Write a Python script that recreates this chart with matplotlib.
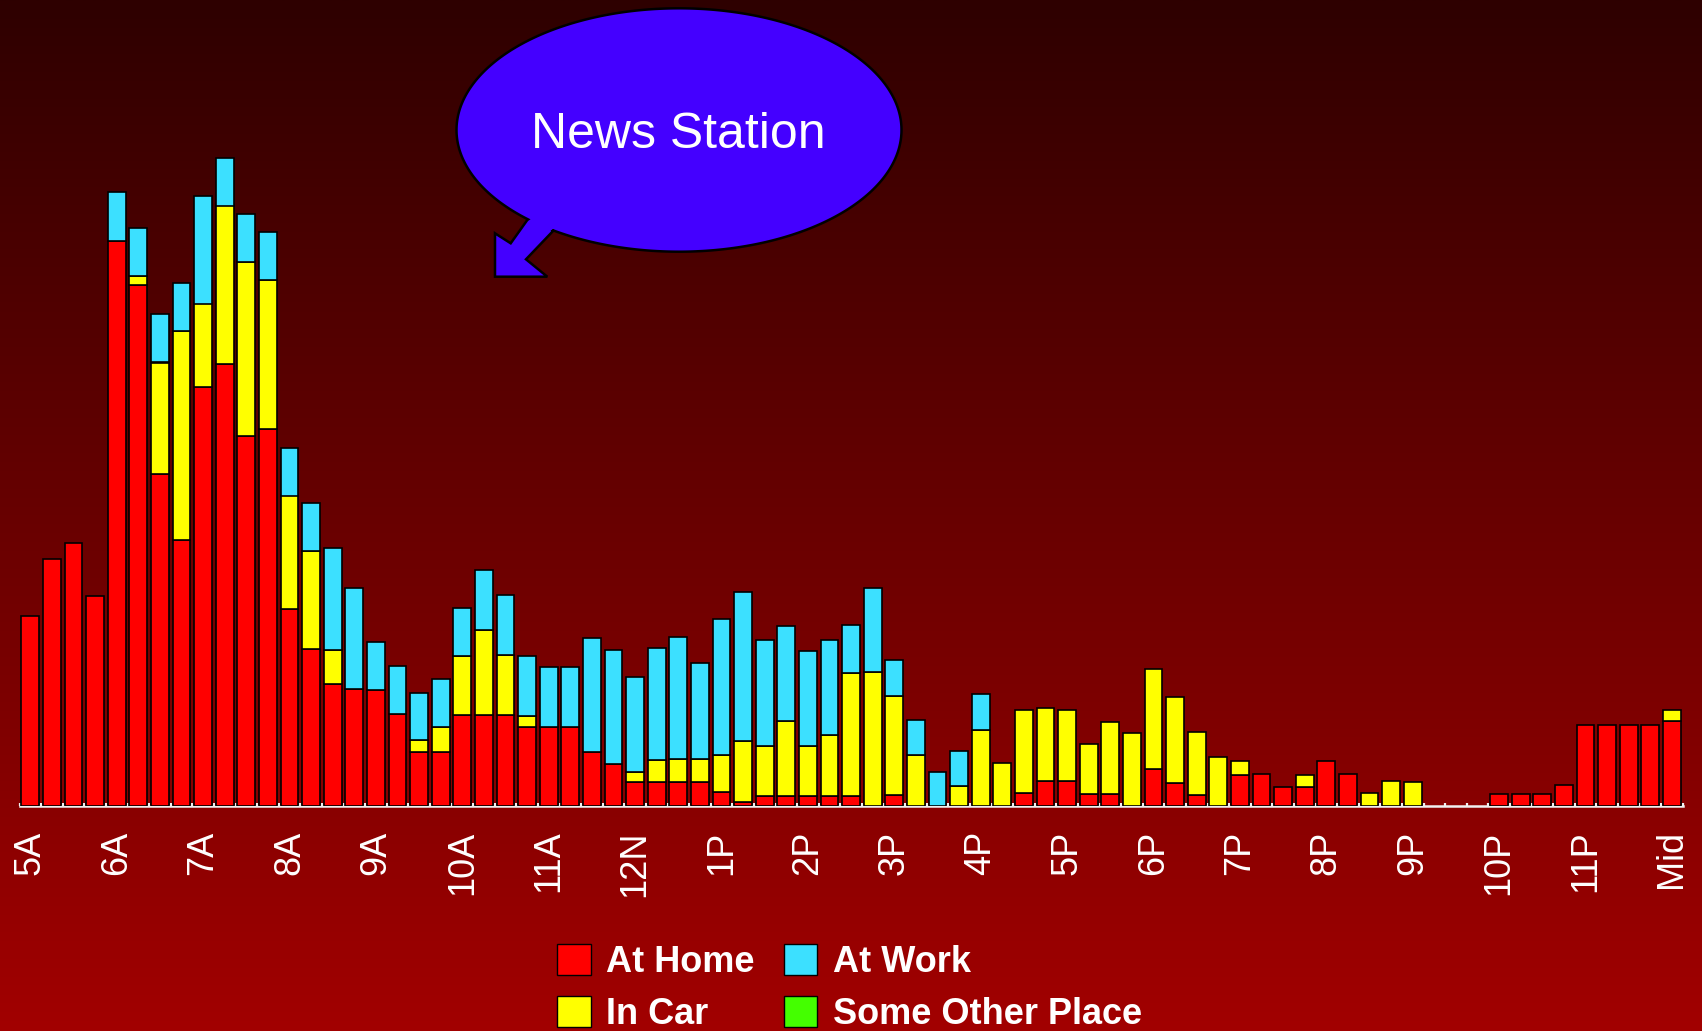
import numpy as np
import matplotlib
matplotlib.use("Agg")
import matplotlib.pyplot as plt
from matplotlib.patches import Patch, Polygon
from matplotlib.font_manager import FontProperties

# Quarter-hour slots from 5A to midnight
hour_labels = ["5A", "6A", "7A", "8A", "9A", "10A", "11A", "12N", "1P", "2P",
               "3P", "4P", "5P", "6P", "7P", "8P", "9P", "10P", "11P", "Mid"]

at_home = [19.0, 24.7, 26.3, 21.0, 56.5, 52.1, 33.2, 26.6, 41.9, 44.2,
           37.0, 37.7, 19.7, 15.7, 12.2, 11.7, 11.6, 9.2, 5.4, 5.4,
           9.1, 9.1, 9.1, 7.9, 7.9, 7.9, 5.4, 4.2, 2.4, 2.4,
           2.4, 2.4, 1.4, 0.4, 1.0, 1.0, 1.0, 1.0, 1.0, 0.0,
           1.1, 0.0, 0.0, 0.0, 0.0, 0.0, 1.3, 2.5, 2.5, 1.2,
           1.2, 0.0, 3.7, 2.3, 1.1, 0.0, 3.1, 3.2, 1.9, 1.9,
           4.5, 3.2, 0.0, 0.0, 0.0, 0.0, 0.0, 0.0, 1.2, 1.2,
           1.2, 2.1, 8.1, 8.1, 8.1, 8.1, 8.5]

in_car = [0.0, 0.0, 0.0, 0.0, 0.0, 0.9, 11.1, 20.9, 8.3, 15.8,
          17.4, 14.9, 11.3, 9.8, 3.4, 0.0, 0.0, 0.0, 1.2, 2.5,
          5.9, 8.5, 6.0, 1.1, 0.0, 0.0, 0.0, 0.0, 1.0, 2.2,
          2.3, 2.3, 3.7, 6.1, 5.0, 7.5, 5.0, 6.1, 12.3, 13.4,
          9.9, 5.1, 0.0, 2.0, 7.6, 4.3, 8.3, 7.3, 7.1, 5.0,
          7.2, 7.3, 10.0, 8.6, 6.3, 4.9, 1.4, 0.0, 0.0, 1.2,
          0.0, 0.0, 1.3, 2.5, 2.4, 0.0, 0.0, 0.0, 0.0, 0.0,
          0.0, 0.0, 0.0, 0.0, 0.0, 0.0, 1.1]

at_work = [0.0, 0.0, 0.0, 0.0, 4.9, 4.8, 4.8, 4.8, 10.7, 4.8,
           4.8, 4.8, 4.8, 4.8, 10.2, 10.1, 4.8, 4.8, 4.7, 4.8,
           4.8, 6.0, 6.0, 6.0, 6.0, 6.0, 11.4, 11.4, 9.5, 11.2,
           12.2, 9.6, 13.6, 14.9, 10.6, 9.5, 9.5, 9.5, 4.8, 8.4,
           3.6, 3.5, 3.4, 3.5, 3.6, 0.0, 0.0, 0.0, 0.0, 0.0,
           0.0, 0.0, 0.0, 0.0, 0.0, 0.0, 0.0, 0.0, 0.0, 0.0,
           0.0, 0.0, 0.0, 0.0, 0.0, 0.0, 0.0, 0.0, 0.0, 0.0,
           0.0, 0.0, 0.0, 0.0, 0.0, 0.0, 0.0]

other_place = [0.0] * 77

series = [
    ("At Home", at_home, "#ff0000"),
    ("In Car", in_car, "#ffff00"),
    ("At Work", at_work, "#3ce0ff"),
    ("Some Other Place", other_place, "#44ff00"),
]

W, H = 1702, 1031
fig = plt.figure(figsize=(W / 100, H / 100), dpi=100)

# Dark-to-red vertical background gradient
bg = fig.add_axes([0, 0, 1, 1], zorder=-10)
t = np.linspace(0, 1, 512)[:, None]
top = np.array([46, 0, 0]) / 255
bot = np.array([162, 0, 0]) / 255
grad = (top[None, None, :] * (1 - t[..., None]) + bot[None, None, :] * t[..., None])
grad = np.repeat(grad, 2, axis=1)
bg.imshow(grad, aspect="auto", extent=[0, 1, 0, 1])
bg.set_axis_off()

ax = fig.add_axes([19.5 / W, 1 - 805.5 / H, (1682.7 - 19.5) / W, 805.5 / H])
ax.patch.set_alpha(0)

x = np.arange(len(at_home))
bottom = np.zeros(len(x))
for name, vals, color in series:
    v = np.asarray(vals, dtype=float)
    m = v > 0
    if m.any():
        ax.bar(x[m], v[m], bottom=bottom[m], width=0.83, color=color,
               edgecolor="black", linewidth=1.2, zorder=2)
    bottom += v

ax.set_xlim(-0.5, len(x) - 0.5)
ax.set_ylim(0, 80.55)
for s in ("left", "right", "top"):
    ax.spines[s].set_visible(False)
ax.spines["bottom"].set_color("#f0f0f0")
ax.spines["bottom"].set_linewidth(1.8)
ax.spines["bottom"].set_zorder(1)
ax.set_yticks([])

ax.set_xticks(np.arange(0, len(x), 4))
ax.set_xticklabels(hour_labels, rotation=90, fontsize=26, color="white",
                   family="Liberation Sans", va="top", ha="center")
ax.tick_params(axis="x", which="major", length=0, pad=18)
ax.set_xticks(np.arange(-0.5, len(x), 1), minor=True)
ax.tick_params(axis="x", which="minor", direction="in", length=2.5,
               width=1.6, color="#f0f0f0")

# Speech-bubble callout
cx, cy, a, b = 679.0, 130.0, 222.5, 121.7
th = np.radians(np.linspace(132.7, 124.4 + 360, 400))
ell = np.column_stack([cx + a * np.cos(th), cy + b * np.sin(th)])
arrow = np.array([[554, 230], [526, 259.3], [547.3, 276.7], [495, 276.7],
                  [495, 233.3], [510.7, 243.3], [527.3, 220]])
outline = np.vstack([ell, arrow])
outline_fig = np.column_stack([outline[:, 0] / W, 1 - outline[:, 1] / H])
fig.patches.append(Polygon(outline_fig, closed=True, facecolor="#4400ff",
                           edgecolor="black", linewidth=1.8,
                           transform=fig.transFigure, zorder=5))
fig.text(678 / W, 1 - 135 / H, "News Station", fontsize=36, color="white",
         family="Liberation Sans", ha="center", va="center", zorder=6)

handles = [Patch(facecolor=c, edgecolor="black", linewidth=1.0)
           for _, _, c in series]
labels = [n for n, _, _ in series]
fig.legend(handles, labels, ncol=2, loc="upper left",
           bbox_to_anchor=(557 / W, 1 - 944 / H),
           frameon=False, borderpad=0, borderaxespad=0,
           handlelength=0.93, handleheight=0.93, handletextpad=0.44,
           columnspacing=0.8, labelspacing=0.45, labelcolor="white",
           prop=FontProperties(family="Liberation Sans", weight="bold", size=26))

fig.savefig("out.png", dpi=100)
